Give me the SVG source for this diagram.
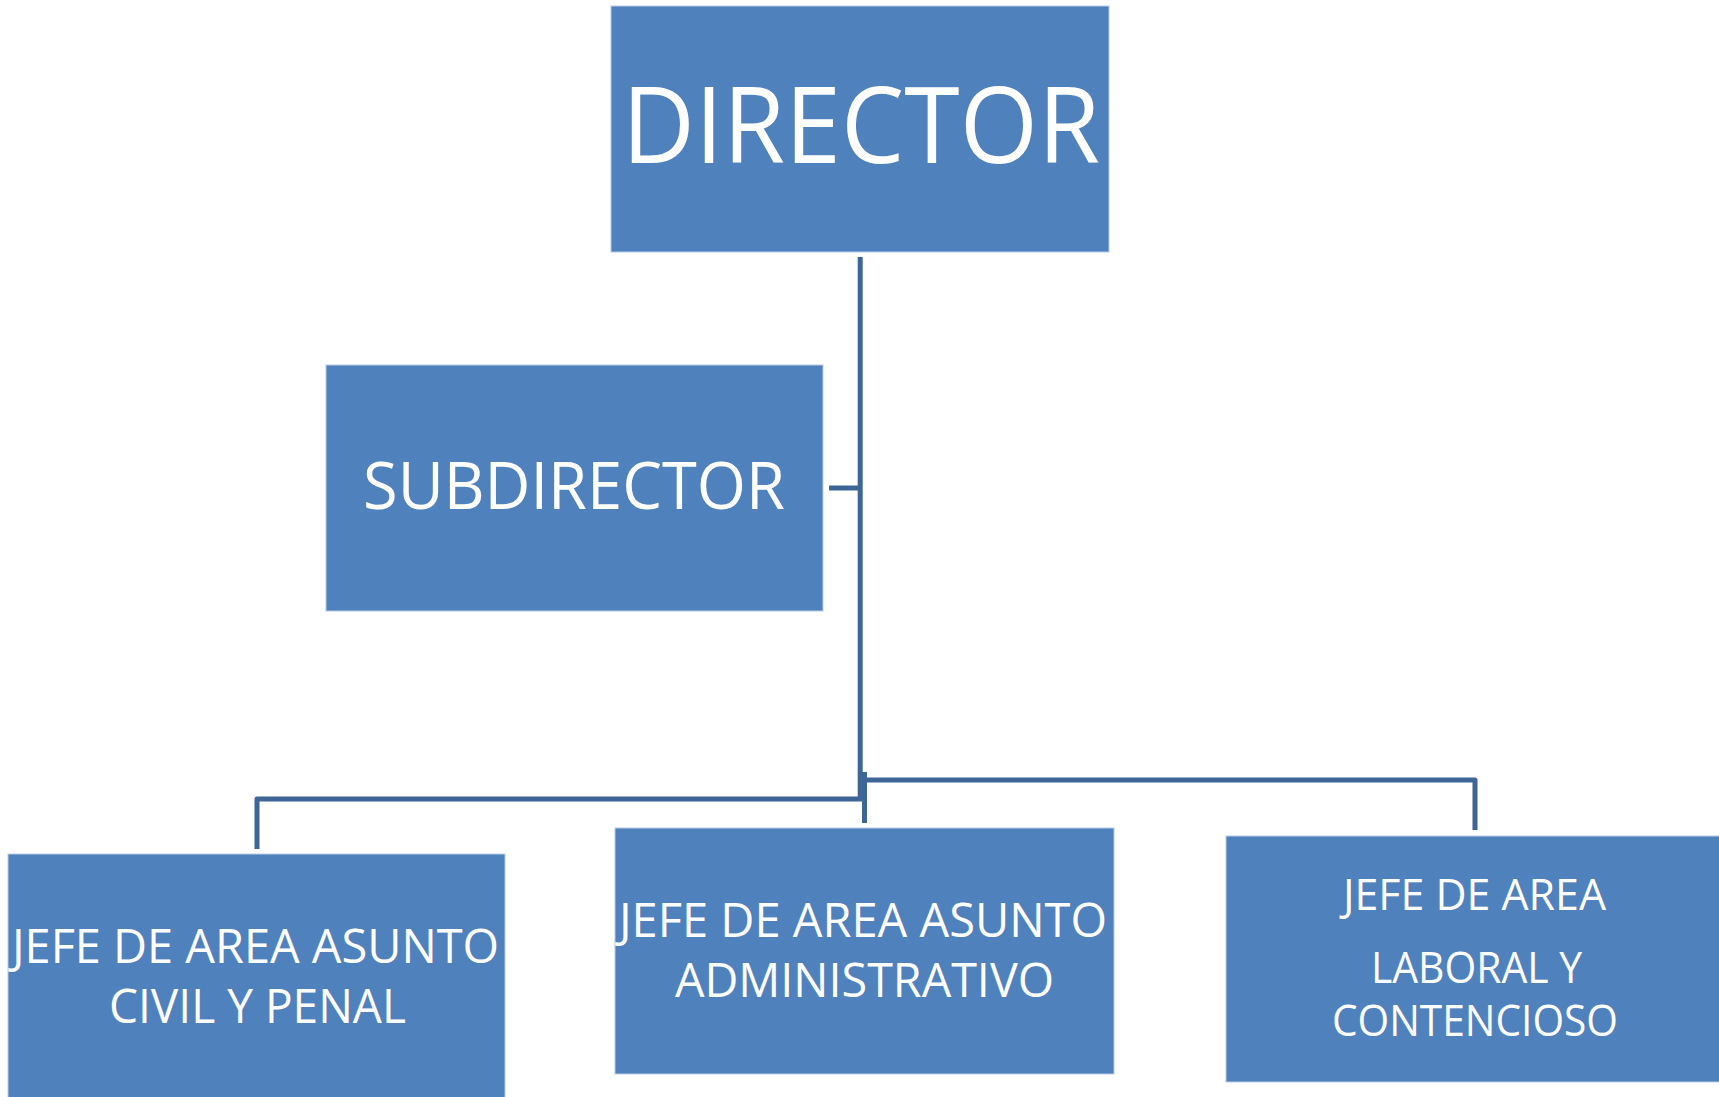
<svg xmlns="http://www.w3.org/2000/svg" width="1719" height="1097" viewBox="0 0 1719 1097">
<style>
.box{fill:#4f81bd;stroke:#b9cbe5;stroke-width:1}
.t{fill:#ffffff;font-family:"Open Sans","Noto Sans",sans-serif}
.c{fill:none;stroke:#3d6596;stroke-width:5;stroke-linejoin:round}
</style>
<rect width="1719" height="1097" fill="#ffffff"/>
<g id="connectors">
<path class="c" d="M860.2,257 V799"/>
<path class="c" d="M829,488 H860"/>
<path class="c" d="M862,799 H257 V849"/>
<path class="c" d="M864.5,772 V823"/>
<path class="c" d="M864.5,780 H1475 V830"/>
</g>
<g id="director">
<rect class="box" x="611" y="6" width="498" height="246"/>
<text class="t" x="622" y="163" font-size="106" textLength="478" lengthAdjust="spacingAndGlyphs">DIRECTOR</text>
</g>
<g id="subdirector">
<rect class="box" x="326" y="365" width="497" height="246"/>
<text class="t" x="363" y="509" font-size="66" textLength="422" lengthAdjust="spacingAndGlyphs">SUBDIRECTOR</text>
</g>
<g id="jefe-civil-penal">
<rect class="box" x="8" y="854" width="497" height="250"/>
<text class="t" x="12" y="963" font-size="47" textLength="487" lengthAdjust="spacingAndGlyphs">JEFE DE AREA ASUNTO</text>
<text class="t" x="109" y="1023" font-size="47" textLength="297" lengthAdjust="spacingAndGlyphs">CIVIL Y PENAL</text>
</g>
<g id="jefe-administrativo">
<rect class="box" x="615" y="828" width="499" height="246"/>
<text class="t" x="619" y="937" font-size="47" textLength="488" lengthAdjust="spacingAndGlyphs">JEFE DE AREA ASUNTO</text>
<text class="t" x="675" y="997" font-size="47" textLength="379" lengthAdjust="spacingAndGlyphs">ADMINISTRATIVO</text>
</g>
<g id="jefe-laboral">
<rect class="box" x="1226" y="836" width="500" height="246"/>
<text class="t" x="1343" y="910" font-size="44" textLength="263" lengthAdjust="spacingAndGlyphs">JEFE DE AREA</text>
<text class="t" x="1371" y="983" font-size="44" textLength="211" lengthAdjust="spacingAndGlyphs">LABORAL Y</text>
<text class="t" x="1332" y="1036" font-size="44" textLength="286" lengthAdjust="spacingAndGlyphs">CONTENCIOSO</text>
</g>
</svg>
